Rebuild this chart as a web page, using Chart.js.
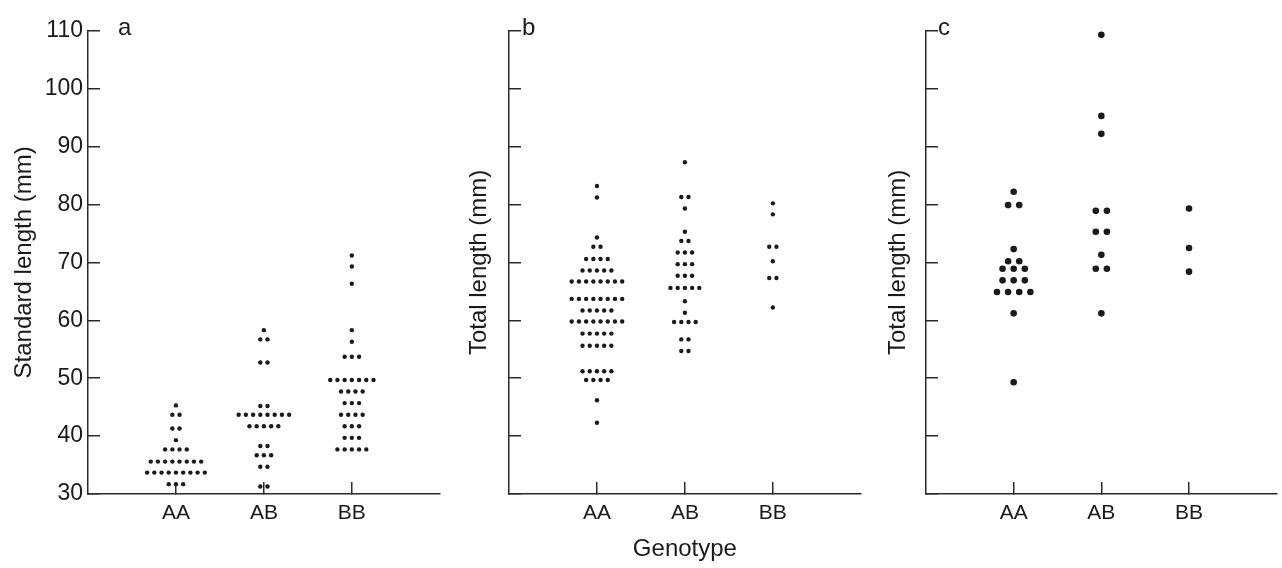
<!DOCTYPE html>
<html><head><meta charset="utf-8">
<script src="https://cdn.jsdelivr.net/npm/chart.js@4.4.1/dist/chart.umd.min.js"></script>
<style>
html,body{margin:0;padding:0;background:#fff;width:1282px;height:568px;overflow:hidden;}
canvas{position:absolute;top:0;}
</style></head><body>
<canvas id="ca" width="442" height="568" style="left:0px"></canvas>
<canvas id="cb" width="442" height="568" style="left:421px"></canvas>
<canvas id="cc" width="442" height="568" style="left:838px"></canvas>
<script>
// ---- data ----
const genotypes = ['AA', 'AB', 'BB'];
const yTicks = [30, 40, 50, 60, 70, 80, 90, 100, 110];
const panelLetters = ['a', 'b', 'c'];
const yTitles = ['Standard length (mm)', 'Total length (mm)', 'Total length (mm)'];
const xTitle = 'Genotype';

// panel a: standard length (mm)
const aAA = [45.3, 43.7, 43.7, 41.3, 41.3, 39.3, 37.7, 37.7, 37.7, 37.7,
  35.6, 35.6, 35.6, 35.6, 35.6, 35.6, 35.6, 35.6,
  33.7, 33.7, 33.7, 33.7, 33.7, 33.7, 33.7, 33.7, 33.7, 31.7, 31.7, 31.7];
const aAB = [58.3, 56.7, 56.7, 52.7, 52.7, 45.2, 45.2,
  43.7, 43.7, 43.7, 43.7, 43.7, 43.7, 43.7, 43.7,
  41.7, 41.7, 41.7, 41.7, 41.7, 38.3, 38.3, 36.7, 36.7, 36.7, 34.7, 34.7, 31.3, 31.3];
const aBB = [71.2, 69.3, 66.3, 58.3, 56.3, 53.7, 53.7, 53.7,
  49.7, 49.7, 49.7, 49.7, 49.7, 49.7, 49.7, 47.7, 47.7, 47.7, 47.7,
  45.7, 45.7, 45.7, 43.7, 43.7, 43.7, 43.7, 41.7, 41.7, 41.7,
  39.7, 39.7, 39.7, 37.7, 37.7, 37.7, 37.7, 37.7];

// panel b: total length (mm)
const bAA = [83.2, 81.2, 74.3, 72.7, 72.7, 70.6, 70.6, 70.6, 70.6,
  68.6, 68.6, 68.6, 68.6, 68.6,
  66.7, 66.7, 66.7, 66.7, 66.7, 66.7, 66.7, 66.7,
  63.7, 63.7, 63.7, 63.7, 63.7, 63.7, 63.7, 63.7,
  61.7, 61.7, 61.7, 61.7, 61.7,
  59.8, 59.8, 59.8, 59.8, 59.8, 59.8, 59.8, 59.8,
  57.7, 57.7, 57.7, 57.7, 57.7, 55.6, 55.6, 55.6, 55.6, 55.6,
  51.2, 51.2, 51.2, 51.2, 51.2, 49.7, 49.7, 49.7, 49.7, 46.2, 42.3];
const bAB = [87.3, 81.3, 81.3, 79.3, 75.3, 73.7, 73.7, 71.7, 71.7, 71.7,
  69.7, 69.7, 69.7, 67.7, 67.7, 67.7, 65.6, 65.6, 65.6, 65.6, 65.6,
  63.3, 61.3, 59.7, 59.7, 59.7, 59.7, 56.7, 56.7, 54.7, 54.7];
const bBB = [80.2, 78.3, 72.7, 72.7, 70.2, 67.3, 67.3, 62.2];

// panel c: total length (mm)
const cAA = [82.2, 79.9, 79.9, 72.3, 70.2, 70.2, 68.9, 68.9, 68.9,
  66.9, 66.9, 66.9, 64.9, 64.9, 64.9, 64.9, 61.2, 49.3];
const cAB = [109.3, 95.3, 92.2, 78.9, 78.9, 75.3, 75.3, 71.3, 68.9, 68.9, 61.2];
const cBB = [79.3, 72.5, 68.4];

// ---- drawing ----
const FONT = '"Liberation Sans", Arial, Helvetica, sans-serif';
const INK = '#1a1a1a';
const AXIS = '#2a2a2a';

const letterPlugin = {
  id: 'panelLetter',
  afterDraw(chart, args, o) {
    const {ctx, chartArea} = chart;
    ctx.save();
    ctx.font = '24px ' + FONT;
    ctx.fillStyle = INK;
    ctx.textBaseline = 'alphabetic';
    ctx.textAlign = 'left';
    ctx.fillText(o.text, chartArea.left + o.dx, 35);
    ctx.restore();
  }
};

function swarm(groups, step) {
  const pts = [];
  groups.forEach((vals, gi) => {
    const center = gi + 1;
    const rows = new Map();
    vals.forEach(v => rows.set(v, (rows.get(v) || 0) + 1));
    rows.forEach((n, v) => {
      for (let i = 0; i < n; i++) pts.push({x: center + (i - (n - 1) / 2) * step, y: v});
    });
  });
  return pts;
}

function makePanel(id, idx, groups, step, radius, letterDx, titlePad) {
  new Chart(document.getElementById(id), {
    type: 'scatter',
    data: {datasets: [{
      data: swarm(groups, step),
      pointRadius: radius, pointHoverRadius: radius,
      pointBackgroundColor: INK, pointBorderWidth: 0, clip: false
    }]},
    options: {
      responsive: false, animation: false, devicePixelRatio: 1, events: [],
      layout: {padding: {top: 23, right: 2, bottom: 0, left: 0}},
      plugins: {legend: {display: false}, tooltip: {enabled: false},
        panelLetter: {text: panelLetters[idx], dx: letterDx}},
      scales: {
        x: {
          type: 'linear', min: 0, max: 4, position: 'bottom',
          afterBuildTicks: s => { s.ticks = genotypes.map((g, i) => ({value: i + 1})); },
          afterFit: s => { s.height = 74; },
          ticks: {callback: v => genotypes[v - 1] || '', font: {family: FONT, size: 21},
            color: INK, padding: 19, maxRotation: 0, minRotation: 0, autoSkip: false},
          grid: {drawOnChartArea: false, drawTicks: true, tickLength: -12, color: AXIS, lineWidth: 1.5},
          border: {display: true, color: AXIS, width: 1.5},
          title: {display: idx === 1, text: xTitle, font: {family: FONT, size: 24}, color: INK,
            padding: {top: 0, bottom: 4}}
        },
        y: {
          type: 'linear', min: 30, max: 110, position: 'left',
          afterBuildTicks: s => { s.ticks = yTicks.map(v => ({value: v})); },
          afterFit: s => { s.width = 88; },
          ticks: {callback: v => idx === 0 ? String(v) : '', font: {family: FONT, size: 23},
            color: INK, padding: 17},
          grid: {drawOnChartArea: false, drawTicks: true, tickLength: -12, color: AXIS, lineWidth: 1.5},
          border: {display: true, color: AXIS, width: 1.5},
          title: {display: true, text: yTitles[idx], font: {family: FONT, size: 24}, color: INK,
            padding: {top: titlePad, bottom: 0}}
        }
      }
    },
    plugins: [letterPlugin]
  });
}

makePanel('ca', 0, [aAA, aAB, aBB], 0.082, 2.2, 30, 10);
makePanel('cb', 1, [bAA, bAB, bBB], 0.082, 2.2, 13, 44);
makePanel('cc', 2, [cAA, cAB, cBB], 0.127, 3.3, 12, 46);
</script>
</body></html>
